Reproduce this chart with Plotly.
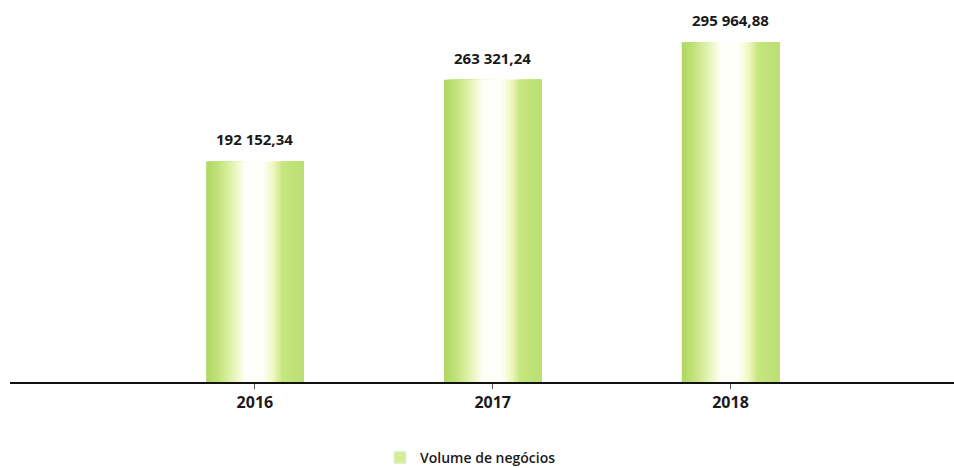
import plotly.graph_objects as go

# Volume de negócios por ano
anos = ["2016", "2017", "2018"]
volume = [192152.34, 263321.24, 295964.88]
serie_nome = "Volume de negócios"

BAR_W = 0.41
N_SLICES = 48

# colour stops across the bar width (position 0..1 -> rgb)
stops = [
    (0.00, (176, 214, 98)),
    (0.12, (192, 227, 120)),
    (0.28, (230, 244, 180)),
    (0.40, (255, 255, 250)),
    (0.58, (255, 255, 250)),
    (0.68, (243, 249, 196)),
    (0.78, (198, 231, 128)),
    (1.00, (186, 223, 114)),
]


def colour_at(t):
    for (p0, c0), (p1, c1) in zip(stops[:-1], stops[1:]):
        if p0 <= t <= p1:
            f = (t - p0) / (p1 - p0) if p1 > p0 else 0
            r, g, b = (round(a + (b_ - a) * f) for a, b_ in zip(c0, c1))
            return f"rgb({r},{g},{b})"
    return "rgb(186,223,114)"


fig = go.Figure()

# gradient fill: each layer starts further right and runs to the bar's
# right edge, so later layers cover earlier ones without seams
slice_w = BAR_W / N_SLICES
for i in range(N_SLICES):
    t = (i + 0.5) / N_SLICES
    fig.add_trace(go.Bar(
        x=anos, y=volume,
        width=BAR_W - i * slice_w,
        offset=-BAR_W / 2 + i * slice_w,
        marker=dict(color=colour_at(t), line=dict(width=0)),
        showlegend=False, hoverinfo="skip",
    ))

# legend entry
fig.add_trace(go.Bar(
    x=[None], y=[None], name=serie_nome,
    marker=dict(color="rgb(214,236,150)"),
))

# value labels above each bar (x given as category index)
for idx, v in enumerate(volume):
    inteiro, dec = f"{v:,.2f}".split(".")
    fig.add_annotation(
        x=idx, y=v, xref="x", yref="y",
        yanchor="bottom", yshift=10, showarrow=False,
        text=inteiro.replace(",", " ") + "," + dec,
        font=dict(family="Open Sans", size=15, color="#1a1a1a", weight=700),
    )

fig.update_layout(
    width=954, height=468,
    margin=dict(l=10, r=0, t=20, b=86, autoexpand=False),
    paper_bgcolor="white", plot_bgcolor="white",
    barmode="overlay",
    showlegend=True,
    legend=dict(
        orientation="h", x=0.392, y=-0.21, xanchor="left", yanchor="middle",
        font=dict(family="Open Sans", size=14, color="#1a1a1a", weight=600),
        itemwidth=30,
    ),
    xaxis=dict(
        type="category", range=[-1.03, 2.94],
        showline=True, linecolor="#111111", linewidth=1.6,
        ticks="outside", ticklen=5, tickcolor="#555555",
        tickfont=dict(family="Open Sans", size=16, color="#1a1a1a", weight=700),
        showgrid=False, zeroline=False,
    ),
    yaxis=dict(
        range=[0, 315300], visible=False, showgrid=False, zeroline=False,
    ),
)

fig.write_html("out.html")
